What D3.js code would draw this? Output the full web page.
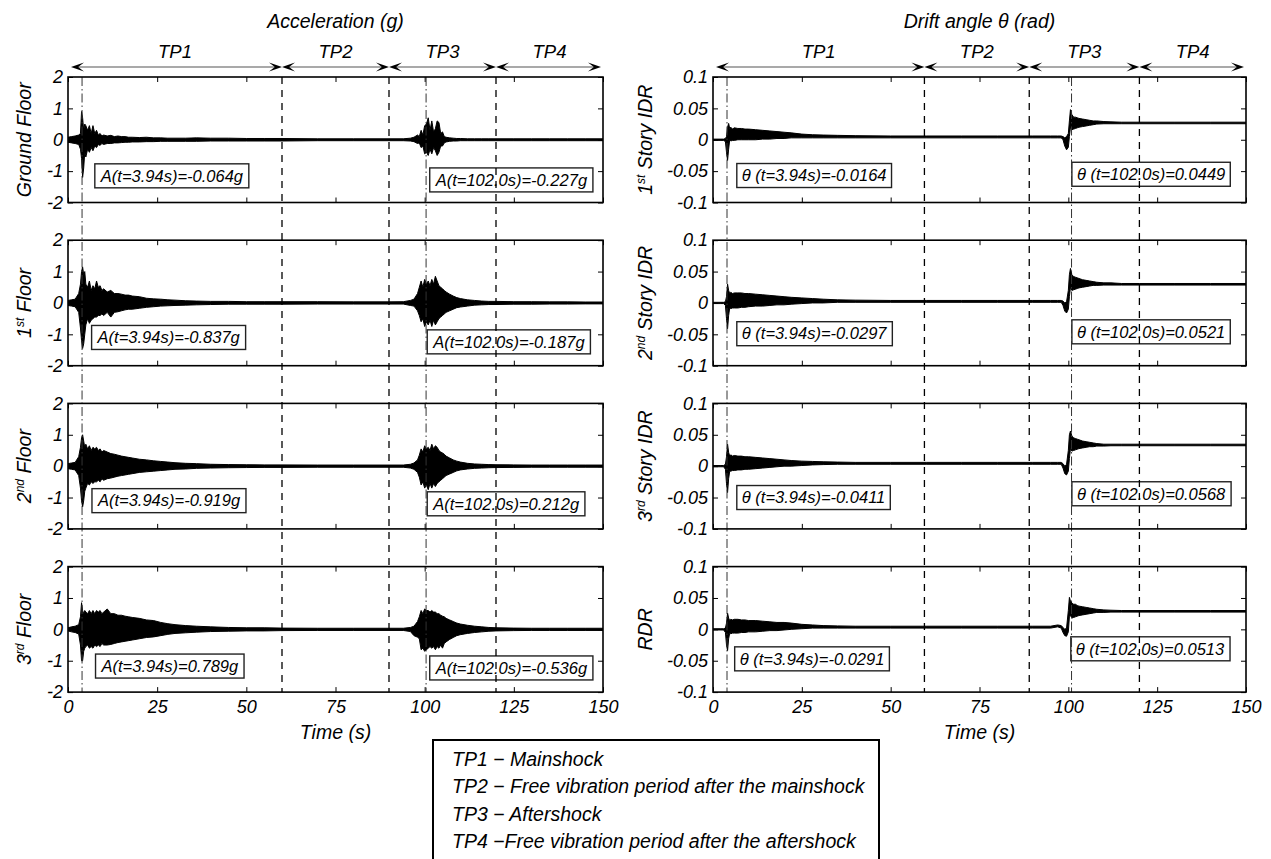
<!DOCTYPE html>
<html><head><meta charset="utf-8">
<script src="https://cdn.jsdelivr.net/npm/d3@7"></script>
<style>
body{margin:0;background:#fff}
svg{display:block}
text{font-family:"Liberation Sans",Arial,Helvetica,sans-serif;font-style:italic;fill:#000}
</style>
</head><body>
<svg id="c" width="1271" height="859"></svg>
<script>
// ---------------- DATA ----------------
const timeTicks = [0, 25, 50, 75, 100, 125, 150];
const timeTickLabels = ["0", "25", "50", "75", "100", "125", "150"];
const accTicks = [2, 1, 0, -1, -2];
const accTickLabels = ["2", "1", "0", "-1", "-2"];
const driftTicks = [0.1, 0.05, 0, -0.05, -0.1];
const driftTickLabels = ["0.1", "0.05", "0", "-0.05", "-0.1"];

const periodNames = ["TP1", "TP2", "TP3", "TP4"];
const accPeriodBounds = [0, 60, 90, 120, 150];
const driftPeriodBounds = [0, 59.5, 89, 120, 150];
const accPeakTimes = [3.94, 100.4];
const driftPeakTimes = [3.94, 100.9];

const legendLines = [
  "TP1 \u2212 Mainshock",
  "TP2 \u2212 Free vibration period after the mainshock",
  "TP3 \u2212 Aftershock",
  "TP4 \u2212Free vibration period after the aftershock"
];

const accTitle = "Acceleration (g)";
const driftTitle = "Drift angle \u03b8 (rad)";
const xTitle = "Time (s)";

const accYLabels = [["Ground Floor", "", ""], ["1", "st", " Floor"], ["2", "nd", " Floor"], ["3", "rd", " Floor"]];
const driftYLabels = [["1", "st", " Story IDR"], ["2", "nd", " Story IDR"], ["3", "rd", " Story IDR"], ["RDR", "", ""]];

const accNotesLeft = ["A(t=3.94s)=-0.064g", "A(t=3.94s)=-0.837g", "A(t=3.94s)=-0.919g", "A(t=3.94s)=0.789g"];
const accNotesRight = ["A(t=102.0s)=-0.227g", "A(t=102.0s)=-0.187g", "A(t=102.0s)=0.212g", "A(t=102.0s)=-0.536g"];
const driftNotesLeft = ["\u03b8 (t=3.94s)=-0.0164", "\u03b8 (t=3.94s)=-0.0297", "\u03b8 (t=3.94s)=-0.0411", "\u03b8 (t=3.94s)=-0.0291"];
const driftNotesRight = ["\u03b8 (t=102.0s)=0.0449", "\u03b8 (t=102.0s)=0.0521", "\u03b8 (t=102.0s)=0.0568", "\u03b8 (t=102.0s)=0.0513"];
// note anchors in data units: [time of left edge, value of centre]
const accNoteLeftAt = [[7.8, -1.15], [6.9, -1.1], [7.0, -1.1], [8.0, -1.17]];
const accNoteRightAt = [[101.7, -1.28], [101.0, -1.24], [101.0, -1.2], [101.7, -1.23]];
const driftNoteLeftAt = [[6.7, -0.057], [6.7, -0.049], [6.7, -0.05], [6.1, -0.047]];
const driftNoteRightAt = [[101.0, -0.055], [101.0, -0.046], [101.0, -0.044], [100.7, -0.031]];

// acceleration time grid (s) and envelopes (g)
const timeAcc = [0,1,2,3,3.5,3.8,4.1,4.4,4.7,5,
  5.5,6,6.5,7,7.5,8,8.5,9,9.5,10,
  11,12,13,14,15,16,17,18,20,22,
  24,26,28,30,33,36,40,45,50,55,
  60,70,80,90,94,96,97,98,98.5,99,
  99.5,100,100.5,101,101.5,102,102.5,103,103.5,104,
  104.5,105,105.5,106,107,108,109,110,112,114,
  116,118,120,125,130,135,140,145,150];

const groundUpper = [.08,.1,.12,.15,.2,.9,.7,.3,.5,.45,
  .3,.45,.2,.45,.2,.3,.15,.2,.12,.15,
  .12,.14,.1,.12,.1,.1,.08,.08,.07,.08,
  .06,.06,.05,.05,.05,.06,.05,.05,.04,.04,
  .04,.03,.03,.03,.03,.05,.08,.15,.1,.3,
  .15,.45,.5,.7,.3,.6,.25,.35,.6,.55,
  .2,.25,.1,.08,.06,.05,.04,.04,.03,.03,
  .03,.03,.03,.03,.03,.03,.03,.03,.03];
const groundLower = [-.08,-.1,-.12,-.15,-.3,-.6,-1.2,-.9,-.4,-.55,
  -.3,-.4,-.25,-.35,-.2,-.25,-.15,-.18,-.12,-.15,
  -.12,-.12,-.1,-.1,-.09,-.08,-.08,-.07,-.07,-.06,
  -.06,-.05,-.05,-.05,-.05,-.05,-.04,-.04,-.04,-.04,
  -.04,-.03,-.03,-.03,-.03,-.04,-.06,-.12,-.1,-.25,
  -.2,-.45,-.4,-.5,-.3,-.45,-.25,-.35,-.5,-.4,
  -.2,-.2,-.1,-.07,-.05,-.04,-.04,-.03,-.03,-.03,
  -.03,-.03,-.03,-.03,-.03,-.03,-.03,-.03,-.03];

const floor1Upper = [.08,.1,.12,.3,.6,1.0,1.15,.9,1.0,.6,
  .5,.7,.4,.55,.45,.7,.5,.55,.4,.45,
  .35,.4,.3,.3,.28,.25,.25,.22,.2,.15,
  .13,.12,.1,.09,.07,.06,.05,.05,.04,.04,
  .04,.04,.035,.035,.04,.08,.12,.3,.5,.7,
  .5,.75,.6,.7,.55,.75,.6,.85,.7,.55,
  .5,.45,.4,.35,.28,.22,.17,.14,.1,.08,
  .06,.05,.05,.04,.04,.035,.035,.03,.03];
const floor1Lower = [-.08,-.1,-.12,-.3,-.8,-1.2,-1.45,-1.3,-1.0,-.7,
  -.5,-.65,-.55,-.5,-.45,-.45,-.4,-.4,-.35,-.4,
  -.3,-.45,-.3,-.28,-.25,-.22,-.2,-.2,-.17,-.14,
  -.12,-.1,-.09,-.08,-.07,-.06,-.05,-.04,-.04,-.04,
  -.04,-.035,-.035,-.035,-.035,-.08,-.1,-.25,-.4,-.6,
  -.5,-.75,-.6,-.7,-.55,-.75,-.55,-.7,-.6,-.5,
  -.45,-.4,-.35,-.3,-.25,-.2,-.15,-.13,-.1,-.07,
  -.06,-.05,-.05,-.04,-.04,-.035,-.035,-.03,-.03];

const floor2Upper = [.08,.1,.12,.3,.6,.9,1.0,.8,.6,.7,
  .55,.65,.5,.6,.55,.6,.5,.55,.45,.5,
  .45,.4,.38,.35,.32,.3,.28,.26,.22,.2,
  .17,.15,.13,.11,.09,.08,.06,.05,.045,.04,
  .04,.035,.035,.035,.035,.06,.1,.2,.35,.55,
  .45,.65,.55,.6,.5,.7,.55,.65,.6,.5,
  .45,.42,.38,.32,.26,.2,.16,.13,.09,.07,
  .06,.05,.045,.04,.035,.035,.035,.035,.035];
const floor2Lower = [-.08,-.1,-.12,-.3,-.7,-1.1,-1.3,-1.1,-.8,-.7,
  -.55,-.6,-.5,-.55,-.5,-.5,-.45,-.5,-.4,-.45,
  -.4,-.38,-.35,-.32,-.3,-.28,-.26,-.24,-.2,-.18,
  -.16,-.14,-.12,-.1,-.09,-.07,-.06,-.05,-.045,-.04,
  -.04,-.035,-.035,-.035,-.035,-.06,-.1,-.2,-.35,-.6,
  -.5,-.7,-.6,-.75,-.55,-.7,-.55,-.65,-.55,-.5,
  -.45,-.4,-.35,-.3,-.25,-.2,-.15,-.12,-.09,-.07,
  -.06,-.05,-.045,-.04,-.035,-.035,-.035,-.035,-.035];

const floor3Upper = [.05,.08,.1,.15,.4,.85,.6,.5,.6,.55,
  .5,.6,.5,.6,.5,.6,.55,.6,.5,.55,
  .65,.5,.5,.45,.45,.42,.4,.38,.35,.3,
  .28,.22,.18,.15,.12,.1,.08,.06,.05,.05,
  .04,.035,.035,.035,.035,.06,.1,.25,.4,.6,
  .5,.65,.6,.6,.55,.6,.55,.55,.5,.5,
  .45,.42,.4,.35,.3,.25,.2,.17,.13,.1,
  .08,.06,.05,.04,.035,.035,.035,.035,.035];
const floor3Lower = [-.05,-.08,-.1,-.15,-.5,-1.0,-1.0,-.7,-.6,-.55,
  -.5,-.6,-.55,-.6,-.5,-.55,-.5,-.55,-.45,-.5,
  -.5,-.48,-.45,-.42,-.4,-.38,-.36,-.34,-.3,-.26,
  -.24,-.2,-.16,-.13,-.11,-.09,-.07,-.06,-.05,-.05,
  -.04,-.035,-.035,-.035,-.035,-.07,-.2,-.25,-.3,-.65,
  -.6,-.7,-.65,-.6,-.55,-.6,-.55,-.65,-.55,-.6,
  -.5,-.6,-.45,-.4,-.32,-.26,-.2,-.17,-.13,-.1,
  -.08,-.06,-.05,-.04,-.035,-.035,-.035,-.035,-.035];

// drift time grid (s) and envelopes (rad)
const timeDrift = [0,2,3,3.5,3.8,4.1,4.4,4.7,5,5.5,
  6,7,8,9,10,12,14,16,18,20,
  22,25,28,31,35,40,50,60,70,80,
  90,95,97,98,98.5,99,99.5,100,100.3,100.6,
  101,101.5,102,102.5,103,104,105,106,107,108,
  110,112,115,120,130,140,150];

const idr1Upper = [.001,.001,.001,.002,.005,.02,.026,.018,.02,.017,
  .019,.018,.018,.017,.017,.016,.015,.014,.013,.012,
  .011,.009,.008,.0075,.007,.0065,.006,.006,.006,.006,
  .006,.006,.006,.006,.005,.003,.005,.01,.03,.048,
  .04,.036,.036,.035,.034,.033,.032,.031,.03,.03,
  .029,.0285,.028,.028,.028,.028,.028];
const idr1Lower = [-.001,-.001,-.001,-.003,-.02,-.033,-.015,0,-.002,-.001,
  -.001,0,0,0,0,0,.001,.001,.002,.002,
  .003,.003,.003,.003,.003,.003,.003,.003,.003,.003,
  .003,.003,.003,.003,0,-.01,-.016,-.012,.005,.02,
  .016,.017,.018,.019,.02,.021,.022,.023,.024,.025,
  .0255,.0255,.0255,.0255,.0255,.0255,.0255];

const idr2Upper = [.001,.001,.001,.002,.01,.03,.02,.015,.017,.015,
  .016,.016,.016,.015,.015,.014,.013,.012,.011,.01,
  .009,.008,.007,.006,.005,.0045,.004,.004,.004,.004,
  .004,.004,.004,.004,.003,0,.002,.02,.045,.055,
  .045,.042,.041,.04,.039,.037,.036,.035,.034,.033,
  .032,.032,.031,.031,.031,.031,.031];
const idr2Lower = [-.001,-.001,-.001,-.004,-.025,-.041,-.02,-.008,-.009,-.008,
  -.008,-.008,-.007,-.007,-.006,-.005,-.005,-.004,-.003,-.003,
  -.002,-.001,0,0,.001,.001,.001,.001,.001,.001,
  .001,.001,.001,.001,-.004,-.013,-.016,-.01,.01,.025,
  .02,.021,.022,.023,.024,.025,.026,.027,.028,.028,
  .0285,.0285,.0285,.0285,.0285,.0285,.0285];

const idr3Upper = [.001,.001,.001,.003,.015,.035,.022,.016,.018,.016,
  .017,.016,.016,.015,.015,.014,.013,.012,.011,.01,
  .009,.008,.0075,.007,.0065,.006,.006,.006,.006,.006,
  .006,.006,.006,.006,.004,0,.003,.025,.05,.056,
  .048,.045,.044,.043,.042,.04,.039,.038,.037,.036,
  .035,.035,.035,.035,.035,.035,.035];
const idr3Lower = [-.001,-.001,-.001,-.005,-.028,-.042,-.02,-.008,-.008,-.007,
  -.007,-.006,-.006,-.005,-.005,-.004,-.003,-.002,-.001,0,
  0,.001,.002,.0025,.003,.003,.003,.003,.003,.003,
  .003,.003,.003,.003,-.003,-.012,-.014,-.008,.012,.028,
  .024,.025,.026,.027,.028,.029,.03,.031,.031,.032,
  .032,.0325,.0325,.0325,.0325,.0325,.0325];

const rdrUpper = [.001,.001,.001,.002,.01,.026,.018,.014,.016,.015,
  .016,.016,.015,.015,.014,.014,.013,.012,.011,.011,
  .01,.008,.007,.006,.0055,.005,.005,.005,.005,.005,
  .005,.005,.007,.006,.003,0,.002,.03,.051,.045,
  .042,.04,.04,.038,.037,.036,.035,.034,.033,.032,
  .031,.0305,.03,.03,.03,.03,.03];
const rdrLower = [-.001,-.001,-.001,-.005,-.025,-.034,-.015,-.006,-.007,-.006,
  -.006,-.006,-.005,-.005,-.004,-.004,-.003,-.002,-.002,-.001,
  0,.001,.002,.002,.002,.002,.002,.002,.002,.002,
  .002,.002,.004,.002,-.005,-.01,-.011,-.004,.02,.022,
  .018,.019,.02,.021,.022,.023,.024,.025,.026,.027,
  .027,.0275,.0275,.0275,.0275,.0275,.0275];

// ---------------- LAYOUT ----------------
const svg = d3.select("#c");
const panelH = 125.5, panelGap = 37.7, top0 = 77, nPanels = 4;
const bottomY = top0 + nPanels * panelH + (nPanels - 1) * panelGap;
const FS = 18;

const columns = [
  {
    x0: 68, x1: 603, title: accTitle, domain: [-2, 2], ticks: accTicks, tickLabels: accTickLabels,
    time: timeAcc, uppers: [groundUpper, floor1Upper, floor2Upper, floor3Upper],
    lowers: [groundLower, floor1Lower, floor2Lower, floor3Lower],
    yLabels: accYLabels, labelX: 31, bounds: accPeriodBounds, peaks: accPeakTimes,
    notesL: accNotesLeft, notesR: accNotesRight, atL: accNoteLeftAt, atR: accNoteRightAt
  },
  {
    x0: 713, x1: 1246, title: driftTitle, domain: [-0.1, 0.1], ticks: driftTicks, tickLabels: driftTickLabels,
    time: timeDrift, uppers: [idr1Upper, idr2Upper, idr3Upper, rdrUpper],
    lowers: [idr1Lower, idr2Lower, idr3Lower, rdrLower],
    yLabels: driftYLabels, labelX: 652, bounds: driftPeriodBounds, peaks: driftPeakTimes,
    notesL: driftNotesLeft, notesR: driftNotesRight, atL: driftNoteLeftAt, atR: driftNoteRightAt
  }
];

const defs = svg.append("defs");

columns.forEach((col, ci) => {
  const x = d3.scaleLinear().domain([0, 150]).range([col.x0, col.x1]);
  const g = svg.append("g");
  const cx = (col.x0 + col.x1) / 2;

  // title
  g.append("text").attr("x", cx).attr("y", 28).attr("text-anchor", "middle")
    .attr("font-size", 19.5).text(col.title);

  // period arrows
  const arrowY = 67;
  const b = col.bounds;
  const head = (xt, yt, dir) => {
    const L = 13, Wd = 4.5;
    return `M${xt},${yt} L${xt - dir * L},${yt - Wd} L${xt - dir * L * 0.55},${yt} L${xt - dir * L},${yt + Wd} Z`;
  };
  for (let k = 0; k < periodNames.length; k++) {
    const xa = x(b[k]) + (k === 0 ? 3 : 0);
    const xb = x(b[k + 1]) - (k === periodNames.length - 1 ? 2 : 0);
    g.append("line").attr("x1", xa + 4).attr("x2", xb - 4).attr("y1", arrowY).attr("y2", arrowY)
      .attr("stroke", "#555").attr("stroke-width", 1.2);
    g.append("path").attr("d", head(xa, arrowY, -1)).attr("fill", "#000");
    g.append("path").attr("d", head(xb, arrowY, 1)).attr("fill", "#000");
    g.append("text").attr("x", x((b[k] + b[k + 1]) / 2)).attr("y", 58).attr("text-anchor", "middle")
      .attr("font-size", 18.5).text(periodNames[k]);
  }

  for (let p = 0; p < nPanels; p++) {
    const yTop = top0 + p * (panelH + panelGap);
    const y = d3.scaleLinear().domain(col.domain).range([yTop + panelH, yTop]);
    const pg = g.append("g");
    const clipId = `clip${ci}_${p}`;
    defs.append("clipPath").attr("id", clipId).append("rect")
      .attr("x", col.x0).attr("y", yTop).attr("width", col.x1 - col.x0).attr("height", panelH);

    pg.append("rect").attr("x", col.x0).attr("y", yTop).attr("width", col.x1 - col.x0)
      .attr("height", panelH).attr("fill", "#fff");

    // signal band
    const up = col.uppers[p], lo = col.lowers[p];
    const area = d3.area().x((d, j) => x(col.time[j])).y0((d, j) => y(lo[j])).y1((d, j) => y(up[j]));
    pg.append("path").datum(col.time).attr("clip-path", `url(#${clipId})`)
      .attr("d", area).attr("fill", "#000").attr("stroke", "#000").attr("stroke-width", 1)
      .attr("stroke-linejoin", "round");

    // ticks
    const yAxL = d3.axisLeft(y).tickValues(col.ticks).tickSize(-5).tickPadding(5)
      .tickFormat((d, i) => col.tickLabels[i]);
    const yAxR = d3.axisRight(y).tickValues(col.ticks).tickSize(-5).tickFormat("");
    const xAxT = d3.axisTop(x).tickValues(timeTicks).tickSize(-5).tickFormat("");
    const xAxB = d3.axisBottom(x).tickValues(timeTicks).tickSize(-5).tickPadding(8)
      .tickFormat((d, i) => p === nPanels - 1 ? timeTickLabels[i] : "");
    const axes = [
      pg.append("g").attr("transform", `translate(${col.x0},0)`).call(yAxL),
      pg.append("g").attr("transform", `translate(${col.x1},0)`).call(yAxR),
      pg.append("g").attr("transform", `translate(0,${yTop})`).call(xAxT),
      pg.append("g").attr("transform", `translate(0,${yTop + panelH})`).call(xAxB)
    ];
    axes.forEach(a => {
      a.select(".domain").remove();
      a.selectAll(".tick line").attr("stroke", "#000").attr("stroke-width", 1);
      a.selectAll(".tick text").attr("font-size", FS).attr("font-family", null).attr("fill", "#000");
    });

    // y label
    const lab = col.yLabels[p];
    const t = pg.append("text").attr("transform", `translate(${col.labelX},${yTop + panelH / 2}) rotate(-90)`)
      .attr("text-anchor", "middle").attr("font-size", 19.5);
    t.append("tspan").text(lab[0]);
    if (lab[1]) {
      t.append("tspan").attr("font-size", 12).attr("dy", -7).text(lab[1]);
      t.append("tspan").attr("dy", 7).text(lab[2]);
    }

    // annotation boxes
    [[col.notesL[p], col.atL[p]], [col.notesR[p], col.atR[p]]].forEach(([txt, at]) => {
      const ng = pg.append("g");
      const rect = ng.append("rect");
      const tx = ng.append("text").attr("x", x(at[0]) + 5).attr("y", y(at[1]))
        .attr("dy", "0.35em").attr("font-size", 16.5).text(txt);
      const bb = tx.node().getBBox();
      rect.attr("x", bb.x - 5).attr("y", y(at[1]) - 12).attr("width", bb.width + 10).attr("height", 24)
        .attr("fill", "#fff").attr("stroke", "#222").attr("stroke-width", 1.4);
    });
  }

  // vertical period lines and peak lines (drawn over the boxes)
  const vg = g.append("g");
  b.slice(1, -1).forEach(v => {
    vg.append("line").attr("x1", x(v)).attr("x2", x(v)).attr("y1", top0).attr("y2", bottomY)
      .attr("stroke", "#000").attr("stroke-width", 1.3).attr("stroke-dasharray", "7,6");
  });
  col.peaks.forEach(v => {
    vg.append("line").attr("x1", x(v)).attr("x2", x(v)).attr("y1", top0).attr("y2", bottomY)
      .attr("stroke", "#333").attr("stroke-width", 1).attr("stroke-dasharray", "9,3,1.5,3");
  });

  // frames on top
  for (let p = 0; p < nPanels; p++) {
    const yTop = top0 + p * (panelH + panelGap);
    g.append("rect").attr("x", col.x0).attr("y", yTop).attr("width", col.x1 - col.x0)
      .attr("height", panelH).attr("fill", "none").attr("stroke", "#000").attr("stroke-width", 1.6);
  }

  // x title
  g.append("text").attr("x", cx).attr("y", 739).attr("text-anchor", "middle")
    .attr("font-size", 19.5).text(xTitle);
});

// legend box
const lg = svg.append("g");
lg.append("path").attr("d", "M433,868 L433,740 L879,740 L879,868")
  .attr("fill", "none").attr("stroke", "#000").attr("stroke-width", 2);
const legY = [766, 793, 821, 848];
legendLines.forEach((s, i) => {
  lg.append("text").attr("x", 452).attr("y", legY[i]).attr("font-size", 19.5).text(s);
});
</script>
</body></html>
